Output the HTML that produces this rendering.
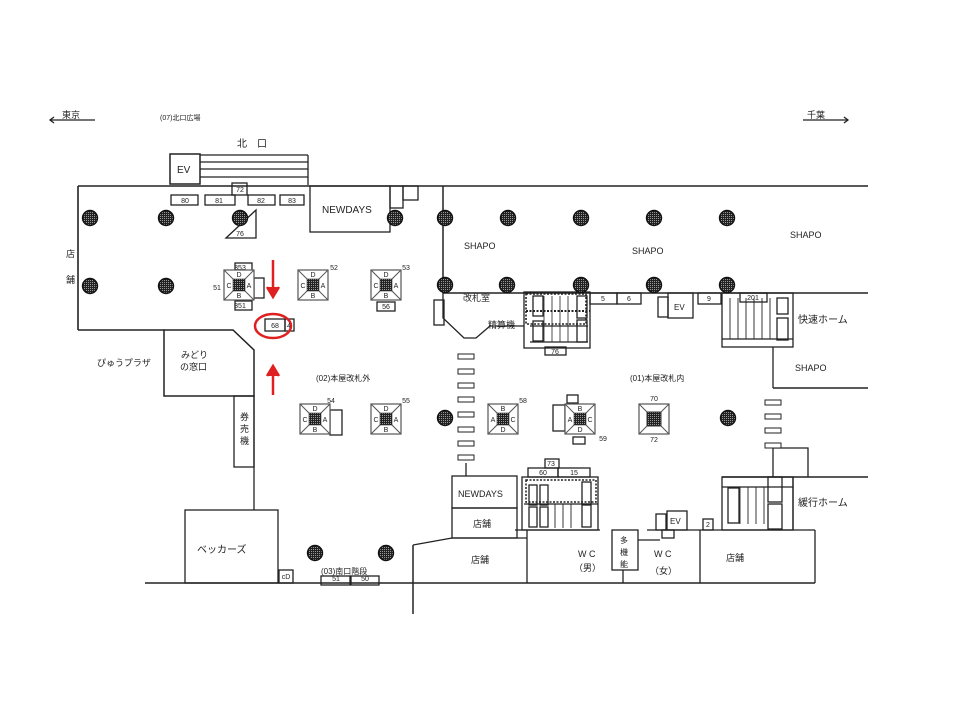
<!DOCTYPE html>
<html><head><meta charset="utf-8"><style>
html,body{margin:0;padding:0;background:#fff;}
svg{display:block;font-family:"Liberation Sans","Noto Sans CJK JP",sans-serif;}
text{fill:#222;}
</style></head><body>
<svg width="960" height="720" viewBox="0 0 960 720" xmlns="http://www.w3.org/2000/svg">
<defs>
<pattern id="chk" width="2" height="2" patternUnits="userSpaceOnUse"><rect width="2" height="2" fill="#222"/><rect width="1" height="1" fill="#999"/></pattern>
<g id="p"><circle r="7.5" fill="url(#chk)" stroke="#111" stroke-width="1.4"/></g>
<g id="k"><rect x="-15" y="-15" width="30" height="30" fill="#fff" stroke="#555" stroke-width="1.2"/><line x1="-15" y1="-15" x2="15" y2="15" stroke="#555"/><line x1="15" y1="-15" x2="-15" y2="15" stroke="#555"/><rect x="-6" y="-6" width="12" height="12" fill="url(#chk)" stroke="#333" stroke-width="0.6"/></g>
<g id="s"><rect width="16" height="5" fill="#fff" stroke="#222"/></g>
</defs>
<g stroke="#222" stroke-width="1.3" fill="none">
<line x1="50" y1="120" x2="95" y2="120"/><path d="M54 117 L50 120 L54 123"/>
<line x1="803" y1="120" x2="848" y2="120"/><path d="M844 117 L848 120 L844 123"/>
<rect x="170" y="154" width="30" height="30" stroke-width="1.5"/>
<line x1="200" y1="155" x2="308" y2="155"/><line x1="200" y1="162" x2="308" y2="162"/><line x1="200" y1="169" x2="308" y2="169"/><line x1="200" y1="177" x2="308" y2="177"/><line x1="308" y1="155" x2="308" y2="185"/>
<line x1="78" y1="186" x2="868" y2="186" stroke-width="1.6"/>
<line x1="78" y1="186" x2="78" y2="330" stroke-width="1.6"/>
<line x1="78" y1="330" x2="164" y2="330" stroke-width="1.6"/>
<path d="M164 330 L233 330 L254 350 L254 396 L164 396 Z" stroke-width="1.5"/>
<rect x="234" y="396" width="20" height="71"/>
<line x1="254" y1="396" x2="254" y2="510"/>
<rect x="185" y="510" width="93" height="73"/>
<line x1="145" y1="583" x2="413" y2="583" stroke-width="1.6"/>
<rect x="279" y="570" width="14" height="13"/>
<rect x="321" y="576" width="29" height="9"/><rect x="351" y="576" width="28" height="9"/>
<line x1="413" y1="545" x2="413" y2="614" stroke-width="1.5"/>
<line x1="413" y1="545" x2="452" y2="538"/>
<line x1="413" y1="583" x2="815" y2="583" stroke-width="1.6"/>
<rect x="452" y="476" width="65" height="32"/><rect x="452" y="508" width="65" height="30"/>
<line x1="452" y1="538" x2="527" y2="538"/><line x1="527" y1="530" x2="527" y2="583"/>
<line x1="515" y1="530" x2="600" y2="530"/>
<rect x="612" y="530" width="26" height="40"/><line x1="623" y1="570" x2="623" y2="583"/>
<line x1="638" y1="540" x2="660" y2="540"/>
<line x1="647" y1="530" x2="815" y2="530"/>
<line x1="700" y1="530" x2="700" y2="583"/><line x1="815" y1="530" x2="815" y2="583"/>
<rect x="667" y="511" width="20" height="19"/><rect x="656" y="514" width="10" height="16"/><rect x="662" y="530" width="12" height="8"/>
<rect x="703" y="519" width="10" height="11"/>
<rect x="310" y="186" width="80" height="46"/>
<rect x="390" y="186" width="13" height="22"/><rect x="403" y="186" width="15" height="14"/>
<rect x="232" y="183" width="15" height="12"/>
<rect x="171" y="195" width="27" height="10"/><rect x="205" y="195" width="30" height="10"/><rect x="248" y="195" width="27" height="10"/><rect x="280" y="195" width="24" height="10"/>
<path d="M226 238 L256 238 L256 210 Z"/>
<line x1="443" y1="186" x2="443" y2="293" stroke-width="1.5"/>
<line x1="443" y1="293" x2="868" y2="293" stroke-width="1.5"/>
<path d="M443 293 L443 318 L464 338 L476 338 L490 326 L524 326"/>
<rect x="434" y="300" width="10" height="25"/>
<rect x="524" y="292" width="66" height="56"/>
<rect x="526" y="294" width="60" height="30" stroke-dasharray="2 1.5" stroke-width="1.6"/>
<line x1="526" y1="311" x2="590" y2="311" stroke-width="2" stroke-dasharray="2 1.5"/>
<line x1="530" y1="326" x2="588" y2="326"/><line x1="530" y1="342" x2="588" y2="342"/>
<g stroke-width="0.8"><line x1="544" y1="296" x2="544" y2="342"/><line x1="552" y1="296" x2="552" y2="342"/><line x1="560" y1="296" x2="560" y2="342"/><line x1="568" y1="296" x2="568" y2="342"/></g>
<rect x="533" y="296" width="10" height="20"/><rect x="577" y="296" width="10" height="22"/><rect x="533" y="321" width="10" height="20"/><rect x="577" y="320" width="10" height="22"/>
<rect x="545" y="347" width="21" height="8"/>
<rect x="590" y="293" width="27" height="11"/><rect x="617" y="293" width="24" height="11"/>
<rect x="668" y="293" width="25" height="25"/><rect x="658" y="297" width="10" height="20"/>
<rect x="698" y="293" width="23" height="11"/>
<rect x="722" y="293" width="71" height="54"/>
<line x1="722" y1="339" x2="793" y2="339"/>
<g stroke-width="0.9"><line x1="730" y1="298" x2="730" y2="339"/><line x1="738" y1="298" x2="738" y2="339"/><line x1="746" y1="298" x2="746" y2="339"/><line x1="754" y1="298" x2="754" y2="339"/><line x1="762" y1="298" x2="762" y2="339"/><line x1="770" y1="298" x2="770" y2="339"/></g>
<rect x="740" y="293" width="27" height="9"/>
<rect x="777" y="298" width="11" height="16"/><rect x="777" y="318" width="11" height="22"/>
<line x1="773" y1="347" x2="773" y2="388"/><line x1="773" y1="388" x2="868" y2="388" stroke-width="1.5"/>
<line x1="722" y1="477" x2="868" y2="477" stroke-width="1.5"/>
<rect x="722" y="477" width="71" height="53"/>
<line x1="722" y1="487" x2="793" y2="487"/>
<g stroke-width="0.9"><line x1="740" y1="487" x2="740" y2="524"/><line x1="748" y1="487" x2="748" y2="524"/><line x1="756" y1="487" x2="756" y2="524"/><line x1="764" y1="487" x2="764" y2="524"/></g>
<rect x="728" y="488" width="11" height="35"/><rect x="768" y="477" width="14" height="25"/><rect x="768" y="504" width="14" height="25"/>
<line x1="793" y1="477" x2="793" y2="530"/>
<path d="M773 477 L773 448 L808 448 L808 477"/>
<rect x="522" y="477" width="76" height="53"/>
<rect x="528" y="468" width="30" height="9"/><rect x="558" y="468" width="32" height="9"/><rect x="545" y="459" width="14" height="9"/>
<line x1="524" y1="504" x2="598" y2="504"/>
<rect x="526" y="480" width="70" height="22" stroke-dasharray="2 1.5" stroke-width="1.5"/>
<rect x="529" y="485" width="8" height="20"/><rect x="540" y="485" width="8" height="20"/><rect x="582" y="482" width="9" height="22"/>
<rect x="529" y="507" width="8" height="20"/><rect x="540" y="507" width="8" height="20"/><rect x="582" y="505" width="9" height="22"/>
<g stroke-width="0.9"><line x1="555" y1="504" x2="555" y2="528"/><line x1="563" y1="504" x2="563" y2="528"/><line x1="571" y1="504" x2="571" y2="528"/></g>
<rect x="235" y="263" width="17" height="9"/><rect x="235" y="301" width="17" height="9"/><rect x="254" y="278" width="10" height="20"/>
<rect x="377" y="302" width="18" height="9"/>
<rect x="265" y="319" width="20" height="12"/><rect x="285" y="319" width="9" height="12"/>
<rect x="330" y="410" width="12" height="25"/>
<rect x="553" y="405" width="12" height="26"/><rect x="567" y="395" width="11" height="8"/><rect x="573" y="437" width="12" height="7"/>
<line x1="466" y1="463" x2="466" y2="476"/>
</g>
<g><use href="#s" x="458" y="354"/><use href="#s" x="458" y="369"/><use href="#s" x="458" y="383"/><use href="#s" x="458" y="397"/><use href="#s" x="458" y="412"/><use href="#s" x="458" y="427"/><use href="#s" x="458" y="441"/><use href="#s" x="458" y="455"/>
<use href="#s" x="765" y="400"/><use href="#s" x="765" y="414"/><use href="#s" x="765" y="428"/><use href="#s" x="765" y="443"/></g>
<g>
<use href="#p" x="90" y="218"/><use href="#p" x="166" y="218"/><use href="#p" x="240" y="218"/><use href="#p" x="395" y="218"/><use href="#p" x="445" y="218"/><use href="#p" x="508" y="218"/><use href="#p" x="581" y="218"/><use href="#p" x="654" y="218"/><use href="#p" x="727" y="218"/>
<use href="#p" x="90" y="286"/><use href="#p" x="166" y="286"/><use href="#p" x="445" y="285"/><use href="#p" x="507" y="285"/><use href="#p" x="581" y="285"/><use href="#p" x="654" y="285"/><use href="#p" x="727" y="285"/>
<use href="#p" x="445" y="418"/><use href="#p" x="728" y="418"/><use href="#p" x="315" y="553"/><use href="#p" x="386" y="553"/>
</g>
<use href="#k" x="239" y="285"/><use href="#k" x="313" y="285"/><use href="#k" x="386" y="285"/>
<use href="#k" x="315" y="419"/><use href="#k" x="386" y="419"/><use href="#k" x="503" y="419"/><use href="#k" x="580" y="419"/>
<g><rect x="639" y="404" width="30" height="30" fill="#fff" stroke="#555" stroke-width="1.2"/><line x1="639" y1="404" x2="669" y2="434" stroke="#555"/><line x1="669" y1="404" x2="639" y2="434" stroke="#555"/><rect x="647" y="412" width="14" height="14" fill="url(#chk)" stroke="#333"/></g>
<g font-size="7" text-anchor="middle">
<text x="239" y="277">D</text><text x="239" y="298">B</text><text x="229" y="288">C</text><text x="249" y="288">A</text>
<text x="313" y="277">D</text><text x="313" y="298">B</text><text x="303" y="288">C</text><text x="323" y="288">A</text>
<text x="386" y="277">D</text><text x="386" y="298">B</text><text x="376" y="288">C</text><text x="396" y="288">A</text>
<text x="315" y="411">D</text><text x="315" y="432">B</text><text x="305" y="422">C</text><text x="325" y="422">A</text>
<text x="386" y="411">D</text><text x="386" y="432">B</text><text x="376" y="422">C</text><text x="396" y="422">A</text>
<text x="503" y="411">B</text><text x="503" y="432">D</text><text x="493" y="422">A</text><text x="513" y="422">C</text>
<text x="580" y="411">B</text><text x="580" y="432">D</text><text x="570" y="422">A</text><text x="590" y="422">C</text>
</g>
<g stroke="#e02020" stroke-width="2.5" fill="none">
<ellipse cx="273" cy="326" rx="18" ry="12"/>
<line x1="273" y1="260" x2="273" y2="295"/><path d="M267 287 L273 297 L279 287" fill="#e02020"/>
<line x1="273" y1="395" x2="273" y2="368"/><path d="M267 376 L273 366 L279 376" fill="#e02020"/>
</g>
<g font-size="9">
<text x="62" y="118">東京</text><text x="807" y="118">千葉</text>
<text x="160" y="120" font-size="7">(07)北口広場</text>
<text x="237" y="147" font-size="10">北　口</text>
<text x="177" y="173" font-size="10">EV</text>
<text x="322" y="213" font-size="10">NEWDAYS</text>
<text x="66" y="257">店</text><text x="66" y="283">舗</text>
<text x="464" y="249">SHAPO</text><text x="632" y="254">SHAPO</text><text x="790" y="238">SHAPO</text><text x="795" y="371">SHAPO</text>
<text x="463" y="301">改札室</text><text x="488" y="328">精算機</text>
<text x="798" y="323" font-size="10">快速ホーム</text>
<text x="798" y="506" font-size="10">緩行ホーム</text>
<text x="97" y="366">ぴゅうプラザ</text>
<text x="181" y="358">みどり</text><text x="180" y="370">の窓口</text>
<text x="240" y="420">券</text><text x="240" y="432">売</text><text x="240" y="444">機</text>
<text x="316" y="381" font-size="8">(02)本屋改札外</text>
<text x="630" y="381" font-size="8">(01)本屋改札内</text>
<text x="197" y="553" font-size="10">ベッカーズ</text>
<text x="321" y="574" font-size="8">(03)南口階段</text>
<text x="458" y="497">NEWDAYS</text>
<text x="473" y="527">店舗</text><text x="471" y="563">店舗</text><text x="726" y="561">店舗</text>
<text x="578" y="557">W C</text><text x="574" y="571">（男）</text>
<text x="654" y="557">W C</text><text x="650" y="574">（女）</text>
<text x="620" y="543" font-size="8">多</text><text x="620" y="555" font-size="8">機</text><text x="620" y="567" font-size="8">能</text>
<text x="670" y="524" font-size="8">EV</text><text x="674" y="310" font-size="8">EV</text>
</g>
<g font-size="7" text-anchor="middle">
<text x="185" y="203">80</text><text x="219" y="203">81</text><text x="261" y="203">82</text><text x="292" y="203">83</text><text x="240" y="192">72</text>
<text x="240" y="236">76</text><text x="240" y="270">353</text><text x="240" y="308">351</text><text x="217" y="290">51</text>
<text x="334" y="270">52</text><text x="406" y="270">53</text><text x="386" y="309">56</text>
<text x="275" y="328">68</text><text x="289" y="328">4</text>
<text x="331" y="403">54</text><text x="406" y="403">55</text><text x="523" y="403">58</text><text x="603" y="441">59</text>
<text x="654" y="401">70</text><text x="654" y="442">72</text>
<text x="603" y="301">5</text><text x="629" y="301">6</text><text x="709" y="301">9</text><text x="753" y="300">201</text>
<text x="555" y="354">76</text>
<text x="551" y="466">73</text><text x="543" y="475">60</text><text x="574" y="475">15</text>
<text x="336" y="581">51</text><text x="365" y="581">50</text><text x="708" y="527">2</text><text x="286" y="579">cD</text>
</g>
</svg>
</body></html>
